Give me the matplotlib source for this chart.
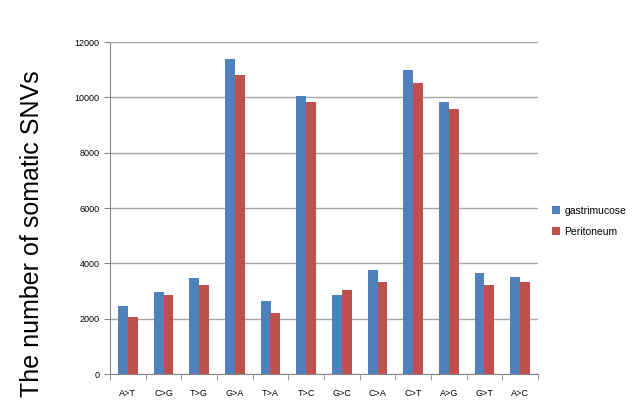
import matplotlib
matplotlib.use('Agg')
import matplotlib.pyplot as plt
import numpy as np

plt.rcParams['font.family'] = ['Liberation Sans', 'DejaVu Sans']

categories = ['A>T', 'C>G', 'T>G', 'G>A', 'T>A', 'T>C', 'G>C', 'C>A', 'C>T', 'A>G', 'G>T', 'A>C']
gastrimucose = [2450, 2950, 3470, 11400, 2640, 10050, 2860, 3760, 10990, 9830, 3640, 3500]
peritoneum = [2050, 2860, 3220, 10800, 2220, 9830, 3050, 3310, 10510, 9570, 3220, 3310]

fig = plt.figure(figsize=(6.4, 4.09), dpi=100)
ax = fig.add_axes([110/640, 1-374/409, 428/640, 332/409])

x = np.arange(len(categories))
w = 0.28
ax.bar(x - w/2, gastrimucose, w, color='#4F81BD', label='gastrimucose')
ax.bar(x + w/2, peritoneum, w, color='#C0504D', label='Peritoneum')

ax.set_xlim(-0.5, len(categories) - 0.5)
ax.set_ylim(0, 12000)
ax.set_yticks(range(0, 12001, 2000))
ax.yaxis.grid(True, color='#a6a6a6', linewidth=1)
ax.set_axisbelow(True)

ax.set_xticks(x)
ax.set_xticklabels(categories, fontsize=6.5)
ax.set_xticks(np.arange(-0.5, len(categories), 1), minor=True)
ax.tick_params(axis='x', which='major', length=0, pad=11)
ax.tick_params(axis='x', which='minor', length=4, color='#888888')
ax.tick_params(axis='y', labelsize=6.5, length=4, color='#888888')

for s in ['top', 'right']:
    ax.spines[s].set_visible(False)
ax.spines['left'].set_color('#888888')
ax.spines['bottom'].set_color('#888888')

fig.text(0.05, 0.428, 'The number of somatic SNVs', rotation=90, fontsize=18,
         ha='center', va='center')

ax.legend(loc='center left', bbox_to_anchor=(1.01, 0.46), frameon=False,
          fontsize=7.5, handlelength=0.8, handleheight=0.8, handletextpad=0.4,
          labelspacing=1.1)

fig.savefig('out.png', dpi=100)
